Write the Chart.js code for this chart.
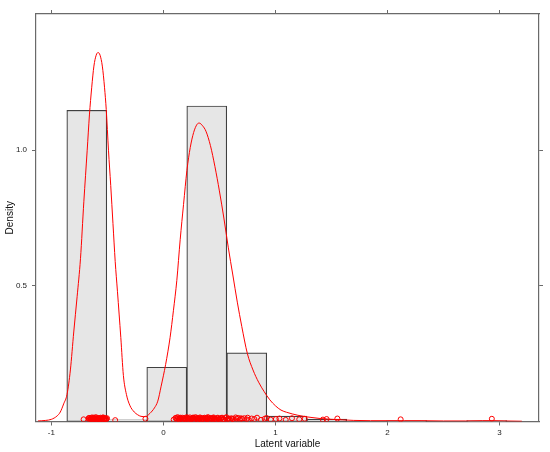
<!DOCTYPE html>
<html>
<head>
<meta charset="utf-8">
<script src="https://cdn.jsdelivr.net/npm/chart.js@4/dist/chart.umd.min.js"></script>
<style>
  html, body { margin: 0; padding: 0; background: #fff; }
  #wrap { width: 550px; height: 452px; }
</style>
</head>
<body>
<div id="wrap"><canvas id="densityChart" width="550" height="452"></canvas></div>
<script>
// histogram breaks and bar heights (density)
const binBreaks = [-0.862, -0.505, -0.148, 0.209, 0.566, 0.923, 1.280, 1.637, 1.994, 2.351, 2.708, 3.065];
const binHeights = [1.147, 0.006, 0.200, 1.163, 0.253, 0.020, 0.009, 0, 0.003, 0, 0.003];

// kernel density curve
const densX = [-1.12, -1.05, -1.00, -0.95, -0.92, -0.89, -0.86, -0.83, -0.80, -0.77,
  -0.74, -0.71, -0.68, -0.66, -0.64, -0.62, -0.60, -0.583, -0.565, -0.545,
  -0.525, -0.51, -0.49, -0.47, -0.45, -0.43, -0.41, -0.38, -0.357, -0.33,
  -0.30, -0.26, -0.23, -0.20, -0.16, -0.12, -0.08, -0.05, -0.02, 0.02,
  0.06, 0.09, 0.12, 0.15, 0.18, 0.21, 0.24, 0.27, 0.30, 0.32,
  0.35, 0.38, 0.42, 0.46, 0.50, 0.54, 0.58, 0.62, 0.66, 0.70,
  0.75, 0.80, 0.85, 0.90, 0.95, 1.00, 1.05, 1.10, 1.20, 1.30,
  1.40, 1.50, 1.60, 1.70, 1.85, 2.00, 2.15, 2.30, 2.50, 2.70,
  2.85, 2.95, 3.05, 3.20];
const densY = [0.002, 0.004, 0.008, 0.02, 0.035, 0.065, 0.10, 0.19, 0.33, 0.46,
  0.60, 0.81, 1.00, 1.13, 1.23, 1.31, 1.35, 1.36, 1.35, 1.31,
  1.23, 1.15, 1.00, 0.87, 0.73, 0.59, 0.48, 0.31, 0.17, 0.10,
  0.06, 0.035, 0.025, 0.019, 0.018, 0.03, 0.05, 0.075, 0.13, 0.21,
  0.31, 0.41, 0.52, 0.67, 0.80, 0.925, 1.01, 1.065, 1.095, 1.10,
  1.09, 1.07, 1.017, 0.94, 0.85, 0.75, 0.64, 0.54, 0.44, 0.35,
  0.25, 0.19, 0.145, 0.11, 0.08, 0.058, 0.042, 0.034, 0.023, 0.016,
  0.011, 0.008, 0.006, 0.004, 0.003, 0.003, 0.003, 0.003, 0.002, 0.002,
  0.003, 0.003, 0.002, 0.001];

// rug of observations (open circles near y = 0)
const rugX = [-0.712, -0.668, -0.662, -0.655, -0.651, -0.644, -0.640, -0.633, -0.629, -0.622,
  -0.618, -0.611, -0.607, -0.600, -0.596, -0.589, -0.585, -0.578, -0.574, -0.567,
  -0.563, -0.556, -0.552, -0.545, -0.541, -0.534, -0.530, -0.523, -0.519, -0.512,
  -0.508, -0.503, -0.43, -0.16,
  0.092, 0.108, 0.121, 0.133, 0.142, 0.151, 0.163, 0.172, 0.184, 0.193,
  0.202, 0.214, 0.223, 0.231, 0.244, 0.252, 0.263, 0.271, 0.282, 0.291,
  0.303, 0.311, 0.322, 0.334, 0.342, 0.353, 0.361, 0.372, 0.384, 0.393,
  0.402, 0.413, 0.424, 0.431, 0.443, 0.452, 0.464, 0.473, 0.481, 0.494,
  0.503, 0.512, 0.524, 0.533, 0.541, 0.556, 0.568, 0.579, 0.592, 0.607,
  0.621, 0.638, 0.652, 0.667, 0.684, 0.702, 0.721, 0.743, 0.762, 0.788,
  0.812, 0.836, 0.871, 0.904, 0.921,
  0.958, 1.004, 1.036, 1.092, 1.148, 1.213, 1.262, 1.424, 1.457, 1.553, 2.118, 2.932,
  -0.665, -0.648, -0.637, -0.626, -0.615, -0.603, -0.592, -0.581, -0.570, -0.559,
  -0.548, -0.537, -0.526, -0.515,
  0.115, 0.127, 0.138, 0.147, 0.157, 0.168, 0.178, 0.188, 0.198, 0.208,
  0.218, 0.227, 0.237, 0.248, 0.258, 0.267, 0.277, 0.287, 0.297, 0.307,
  0.317, 0.327, 0.338, 0.347, 0.357, 0.367, 0.378, 0.388, 0.397, 0.408,
  0.418, 0.436, 0.448, 0.458, 0.468, 0.486, 0.498, 0.518, 0.537, 0.562,
  0.586, 0.614, 0.645, 0.692, 0.752];
const rugY = [0.008, 0.011, 0.006, 0.013, 0.009, 0.005, 0.012, 0.007, 0.010, 0.014,
  0.006, 0.009, 0.012, 0.005, 0.011, 0.008, 0.013, 0.007, 0.010, 0.006,
  0.012, 0.009, 0.005, 0.011, 0.014, 0.008, 0.006, 0.010, 0.013, 0.007,
  0.009, 0.012, 0.005, 0.010, 0.007, 0.013, 0.008, 0.011, 0.006, 0.014,
  0.009, 0.005, 0.012, 0.008, 0.010, 0.013, 0.006, 0.011, 0.007, 0.009,
  0.014, 0.005, 0.010, 0.012, 0.008, 0.006, 0.011, 0.013, 0.007, 0.009,
  0.005, 0.012, 0.010, 0.008, 0.014, 0.006, 0.011, 0.009, 0.013, 0.007,
  0.010, 0.005, 0.012, 0.008, 0.006, 0.011, 0.014, 0.009, 0.007, 0.013,
  0.008, 0.010, 0.005, 0.012, 0.009, 0.006, 0.011, 0.013, 0.007, 0.010,
  0.012, 0.008, 0.005, 0.011, 0.009, 0.014, 0.006, 0.010, 0.013, 0.007,
  0.009, 0.011, 0.006, 0.012, 0.008, 0.010, 0.007, 0.009, 0.011, 0.008, 0.010,
  0.013, 0.009, 0.015, 0.007, 0.011, 0.016, 0.008, 0.012, 0.010, 0.014,
  0.007, 0.015, 0.011, 0.009,
  0.013, 0.016, 0.008, 0.012, 0.010, 0.014, 0.009, 0.013, 0.007, 0.016,
  0.011, 0.008, 0.015, 0.010, 0.012, 0.014, 0.008, 0.016, 0.011, 0.013,
  0.009, 0.015, 0.007, 0.012, 0.010, 0.014, 0.012, 0.008, 0.016, 0.010,
  0.013, 0.009, 0.015, 0.011, 0.007, 0.014, 0.010, 0.013, 0.008, 0.016,
  0.011, 0.009, 0.015, 0.012, 0.014];

const xTicks = [-1, 0, 1, 2, 3];
const yTicks = [0.5, 1.0];
const xRange = [-1.137, 3.353];
const yRange = [0, 1.502];

const FONT = "'Liberation Sans', Arial, Helvetica, sans-serif";
const frameColor = '#6a6a6a';

const barData = binHeights.map((h, i) => ({ x: (binBreaks[i] + binBreaks[i + 1]) / 2, y: h }));
const curveData = densX.map((x, i) => ({ x: x, y: densY[i] }));
const rugData = rugX.map((x, i) => ({ x: x, y: rugY[i] }));

function setTicks(values) {
    return function (scale) {
        scale.ticks = values.map(v => ({ value: v }));
    };
}

function axisGrid() {
    return { drawOnChartArea: false, drawTicks: true, tickLength: 4, color: frameColor,
        lineWidth: 1, offset: false };
}

const chartConfig = {
    type: 'bar',
    data: {
        datasets: [{
            type: 'scatter',
            data: rugData,
            pointStyle: 'circle',
            pointRadius: 2.5,
            borderColor: '#ff0000',
            backgroundColor: 'rgba(0,0,0,0)',
            borderWidth: 1,
            xAxisID: 'x',
            yAxisID: 'y',
            order: 1
        }, {
            type: 'line',
            data: curveData,
            borderColor: '#ff0000',
            borderWidth: 1,
            pointRadius: 0,
            fill: false,
            cubicInterpolationMode: 'monotone',
            xAxisID: 'x',
            yAxisID: 'y',
            order: 2
        }, {
            type: 'bar',
            data: barData,
            backgroundColor: '#e6e6e6',
            borderColor: '#404040',
            borderWidth: 1.2,
            borderSkipped: false,
            barPercentage: 1,
            categoryPercentage: 1,
            xAxisID: 'x',
            yAxisID: 'y',
            order: 3
        }]
    },
    options: {
        responsive: false,
        animation: false,
        layout: { padding: 0 },
        plugins: {
            legend: { display: false },
            tooltip: { enabled: false },
            title: { display: false }
        },
        scales: {
            x: {
                type: 'linear',
                position: 'bottom',
                offset: false,
                min: xRange[0],
                max: xRange[1],
                afterBuildTicks: setTicks(xTicks),
                afterFit: s => { s.height = 30.5; },
                grid: axisGrid(),
                border: { display: true, color: frameColor, width: 1.2 },
                ticks: { font: { family: FONT, size: 8 }, color: '#222', padding: 2,
                    callback: v => String(v) },
                title: { display: true, text: 'Latent variable', color: '#111',
                    font: { family: FONT, size: 10 }, padding: { top: 0, bottom: 2 } }
            },
            x2: {
                type: 'linear',
                position: 'top',
                offset: false,
                min: xRange[0],
                max: xRange[1],
                afterBuildTicks: setTicks(xTicks),
                afterFit: s => { s.height = 14; },
                grid: axisGrid(),
                border: { display: true, color: frameColor, width: 1.2 },
                ticks: { display: false }
            },
            y: {
                type: 'linear',
                position: 'left',
                min: yRange[0],
                max: yRange[1],
                afterBuildTicks: setTicks(yTicks),
                afterFit: s => { s.width = 36; },
                grid: axisGrid(),
                border: { display: true, color: frameColor, width: 1.2 },
                ticks: { font: { family: FONT, size: 8 }, color: '#222', padding: 5,
                    callback: v => Number(v).toFixed(1) },
                title: { display: true, text: 'Density', color: '#111',
                    font: { family: FONT, size: 10 }, padding: { top: 4, bottom: 0 } }
            },
            y2: {
                type: 'linear',
                position: 'right',
                min: yRange[0],
                max: yRange[1],
                afterBuildTicks: setTicks(yTicks),
                afterFit: s => { s.width = 11; },
                grid: axisGrid(),
                border: { display: true, color: frameColor, width: 1.2 },
                ticks: { display: false }
            }
        }
    }
};

function initializeChart() {
    const canvas = document.getElementById('densityChart');
    if (canvas) {
        const ctx = canvas.getContext('2d');
        if (ctx) {
            new Chart(ctx, chartConfig);
        }
    }
}

document.addEventListener('DOMContentLoaded', initializeChart);
</script>
</body>
</html>
